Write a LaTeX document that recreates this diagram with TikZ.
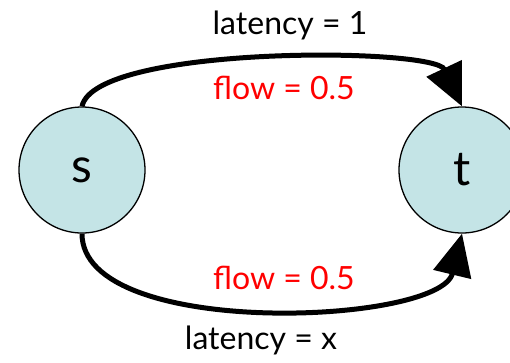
\documentclass[tikz,border=0pt]{standalone}
\usepackage{fontspec}
\setmainfont{Lato}
\usetikzlibrary{arrows.meta}
\definecolor{nodefill}{RGB}{196,228,230}
\begin{document}
\begin{tikzpicture}[x=1pt,y=-1pt]
\tikzstyle{vertex}=[circle, draw=black, line width=1.3pt, fill=nodefill, minimum size=126pt, inner sep=0pt, font=\fontsize{48}{50}\selectfont]
\tikzstyle{edge}=[line width=5pt, -{Triangle[length=42pt,width=38pt]}]
\tikzstyle{lbl}=[inner sep=0pt, font=\fontsize{32}{34}\selectfont]
\useasboundingbox (0,0) rectangle (510,362);
\node [vertex] (s) at (82,170) {s};
\node [vertex] (t) at (462,170) {t};
\draw [edge] (s.north) .. controls (95,45) and (434,47) .. (t.north);
\draw [edge] (s.south) .. controls (82,340) and (440,325) .. (t.south);
\node [lbl] (lat1) at (290,25) {latency = 1};
\node [lbl, text=red] (flow1) at (284,88) {flow = 0.5};
\node [lbl, text=red] (flow2) at (284,278) {flow = 0.5};
\node [lbl] (latx) at (261,340) {latency = x};
\end{tikzpicture}
\end{document}
